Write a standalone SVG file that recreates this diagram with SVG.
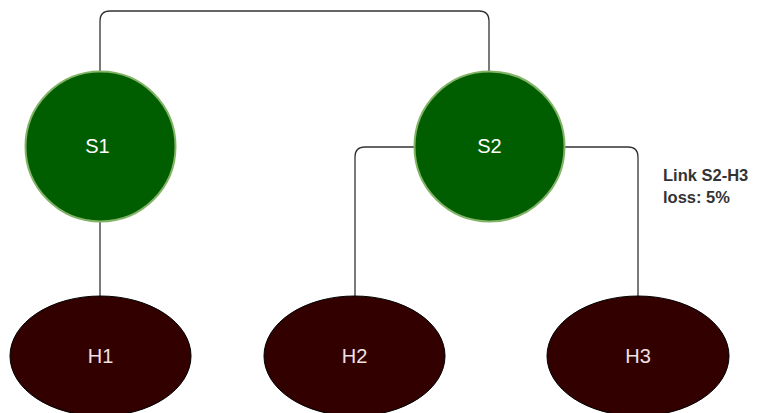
<svg xmlns="http://www.w3.org/2000/svg" width="757" height="413" viewBox="0 0 757 413">
<style>
.sw{fill:#005e00;stroke:#82b366;stroke-width:2}
.h{fill:#330000;stroke:#000;stroke-width:1}
.lbl{font-family:"Liberation Sans",Arial,sans-serif;font-size:20px;fill:#fff;text-anchor:middle}
.hl{fill:#eee2e2}
.edge{fill:none;stroke:#333;stroke-width:1.3}
.note{font-family:"Liberation Sans",Arial,sans-serif;font-size:16.5px;font-weight:bold;fill:#333}
</style>
<rect width="757" height="413" fill="#fff"/>
<g id="connectors">
<path class="edge" d="M100,71 V21 Q100,11 110,11 H479 Q489,11 489,21 V71"/>
<path class="edge" d="M100,222 V296"/>
<path class="edge" d="M414,147 H365 Q355,147 355,157 V296"/>
<path class="edge" d="M565,147 H628 Q638,147 638,157 V296"/>
</g>
<g id="S1"><circle class="sw" cx="100.5" cy="146.5" r="75"/><text class="lbl" x="97.5" y="153">S1</text></g>
<g id="S2"><circle class="sw" cx="489.5" cy="146.5" r="75"/><text class="lbl" x="489.5" y="153">S2</text></g>
<g id="H1"><ellipse class="h" cx="100.5" cy="356" rx="90.5" ry="60"/><text class="lbl hl" x="100.5" y="363">H1</text></g>
<g id="H2"><ellipse class="h" cx="354.5" cy="356" rx="90.5" ry="60"/><text class="lbl hl" x="354.5" y="363">H2</text></g>
<g id="H3"><ellipse class="h" cx="638" cy="356" rx="91" ry="60"/><text class="lbl hl" x="638" y="363">H3</text></g>
<g id="label"><text class="note" x="663" y="181">Link S2-H3</text><text class="note" x="663" y="203">loss: 5%</text></g>
</svg>
